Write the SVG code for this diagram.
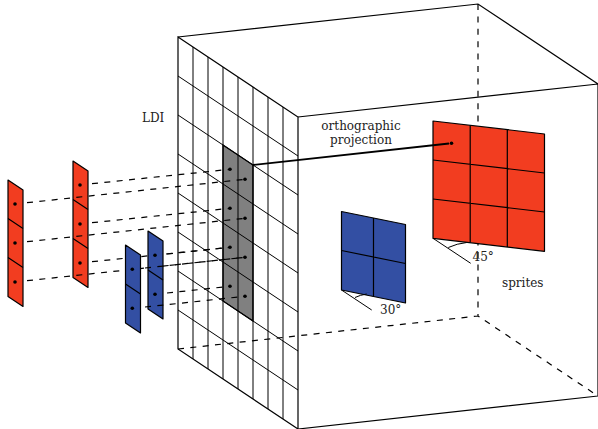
<svg xmlns="http://www.w3.org/2000/svg" width="598" height="429" viewBox="0 0 598 429">
<style>
.e{fill:none;stroke:#000;stroke-width:1.2}
.g{fill:none;stroke:#000;stroke-width:1}
.d{fill:none;stroke:#000;stroke-width:1.2;stroke-dasharray:6 6.400}
.r{fill:#f23d20;stroke:#000;stroke-width:1.2;stroke-linejoin:round}
.b{fill:#334fa3;stroke:#000;stroke-width:1.2;stroke-linejoin:round}
.p{fill:#000;stroke:none}
text{font-family:"DejaVu Serif","Liberation Serif",serif;font-size:12px;fill:#222}
</style>
<defs><circle id="dot" class="p" r="1.800"/></defs>
<rect width="598" height="429" fill="#fff"/>
<g id="box">
<path class="d" d="M478 4V316M178 349L478 316L598 396"/>
<path class="e" d="M178 37L478 4L598 84L298 117M298 117L598 84V396L298 429"/>
</g>
<g id="ldi">
<path fill="#808080" stroke="#000" stroke-width="1.300" d="M223 145L253 165V321L223 301Z"/>
<path class="g" d="M193 47V359M208 57V369M223 67V379M238 77V389M253 87V399M268 97V409M283 107V419M178 76L298 156M178 115L298 195M178 154L298 234M178 193L298 273M178 232L298 312M178 271L298 351M178 310L298 390"/>
<path class="e" d="M178 37L298 117V429L178 349Z"/>
</g>
<g id="sprite-red-a">
<path class="r" d="M8 180L23 190V306.500L8 296.500Z"/>
<path class="e" d="M8 218.500L23 228.500M8 257.500L23 267.500"/>
<use href="#dot" x="15" y="204"/><use href="#dot" x="15" y="243"/><use href="#dot" x="15" y="282"/>
</g>
<g id="sprite-red-b">
<path class="r" d="M73 161L88 171V287.500L73 277.500Z"/>
<path class="e" d="M73 199.500L88 209.500M73 238.500L88 248.500"/>
<use href="#dot" x="80" y="185"/><use href="#dot" x="80" y="224"/><use href="#dot" x="80" y="263"/>
</g>
<g id="connectors-red">
<path class="d" d="M27 202.700L245 179.300M27 241.700L245 218.300M27 280.700L245 257.300M92 183.700L230 169.300M92 222.700L230 208.300M92 261.700L230 247.300"/>
</g>
<g id="sprite-blue-a">
<path class="b" d="M125.500 245L140.500 255V333L125.500 323Z"/>
<path class="e" d="M125.500 284L140.500 294"/>
<use href="#dot" x="132.300" y="269.300"/><use href="#dot" x="132.300" y="308.300"/>
</g>
<g id="sprite-blue-b">
<path class="b" d="M148 231L163 241V319L148 309Z"/>
<path class="e" d="M148 270L163 280"/>
<use href="#dot" x="155" y="255.300"/><use href="#dot" x="155" y="294.300"/>
</g>
<g id="connectors-blue">
<path class="d" d="M145 268L245 257.300M145 307L245 296.300M167 254L230 247.300M167 293L230 286.300"/>
</g>
<g id="ldi-dots">
<use href="#dot" x="230" y="169.300"/><use href="#dot" x="245" y="179.300"/>
<use href="#dot" x="230" y="208.300"/><use href="#dot" x="245" y="218.300"/>
<use href="#dot" x="230" y="247.300"/><use href="#dot" x="245" y="257.300"/>
<use href="#dot" x="230" y="286.300"/><use href="#dot" x="245" y="296.300"/>
</g>
<g id="sprite-red-large">
<path class="r" d="M433 121L544.500 134V251.300L433 238.300Z"/>
<path class="e" d="M470.200 125.300V242.600M507.300 129.700V247M433 160L544.500 173M433 199L544.500 212"/>
<use href="#dot" x="451.500" y="143.300"/>
</g>
<g id="sprite-blue-large">
<path class="b" d="M341.500 211.500L405.500 224.500V303L341.500 290Z"/>
<path class="e" d="M373.500 218V296.500M341.500 250.500L405.500 263.500"/>
</g>
<g id="projection">
<path fill="none" stroke="#000" stroke-width="1.800" d="M253 165L449 143.500"/>
</g>
<g id="angle-45">
<path class="g" d="M433 238.300L470.700 263.300M448.300 247.500Q457 243.500 466.700 242.500"/>
<text x="472.500" y="260.500">45°</text>
</g>
<g id="angle-30">
<path class="g" d="M341.500 290L371.700 310M355 297.500Q360 295 366.700 294"/>
<text x="380" y="314">30°</text>
</g>
<g id="labels">
<text x="142" y="122">LDI</text>
<text x="361" y="130" text-anchor="middle">orthographic</text>
<text x="361" y="143.500" text-anchor="middle">projection</text>
<text x="502" y="287">sprites</text>
</g>
</svg>
